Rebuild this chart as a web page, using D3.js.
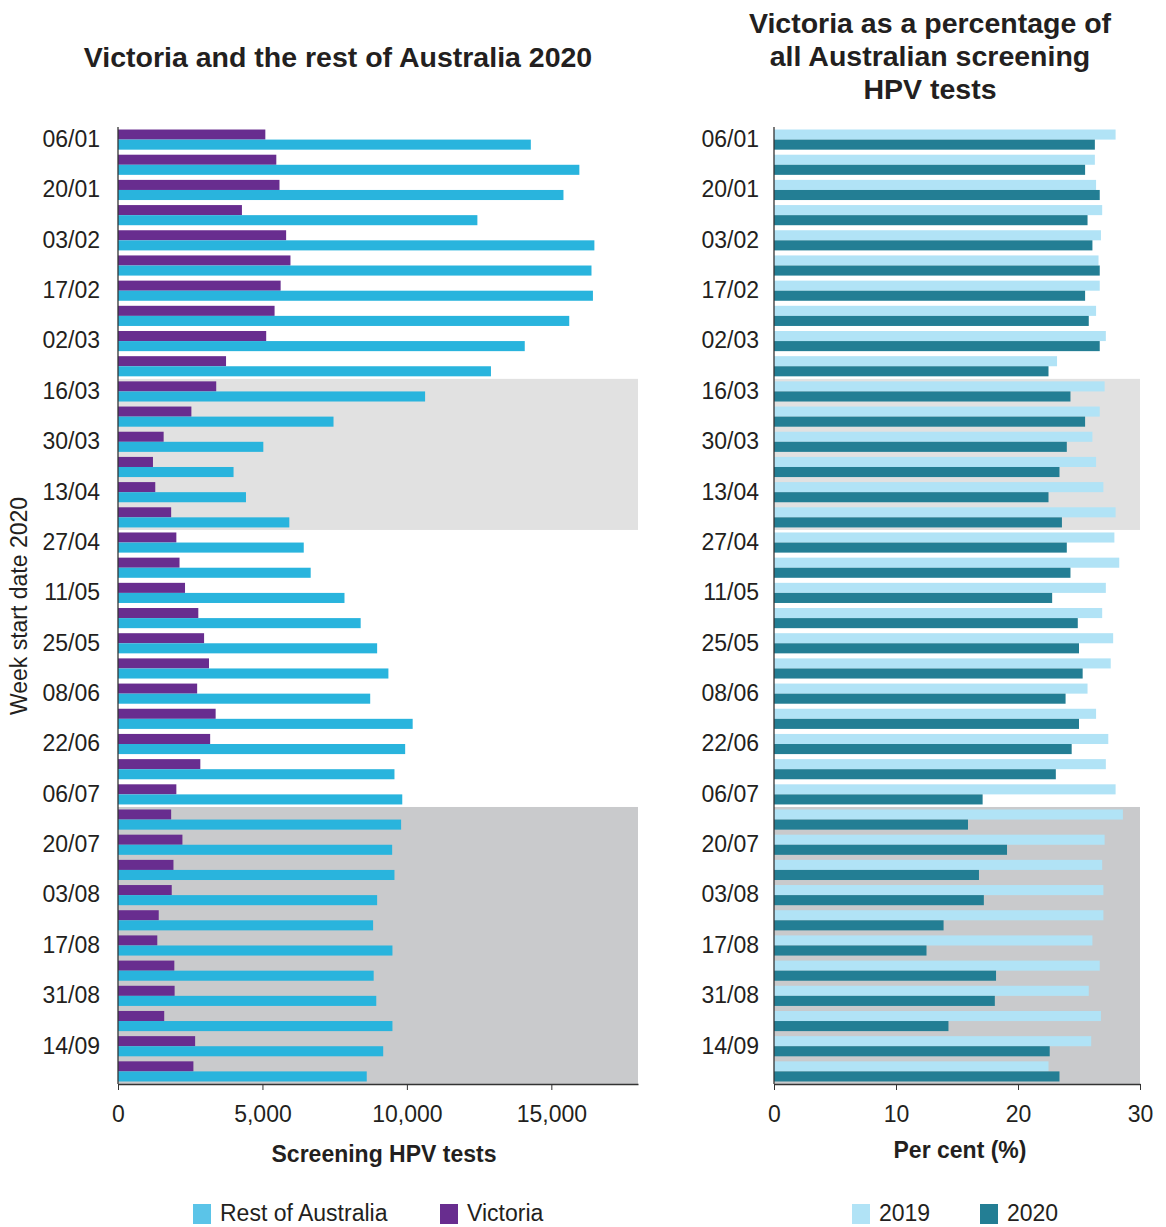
<!DOCTYPE html>
<html>
<head>
<meta charset="utf-8">
<script src="https://cdn.jsdelivr.net/npm/d3@7"></script>
<style>
  body { margin: 0; background: #fff; }
  text { font-family: "Liberation Sans", Arial, sans-serif; fill: #231f20; }
</style>
</head>
<body>
<div id="chart"></div>
<script>
let weeks = ["06/01","13/01","20/01","27/01","03/02","10/02","17/02","24/02","02/03","09/03",
  "16/03","23/03","30/03","06/04","13/04","20/04","27/04","04/05","11/05","18/05",
  "25/05","01/06","08/06","15/06","22/06","29/06","06/07","13/07","20/07","27/07",
  "03/08","10/08","17/08","24/08","31/08","07/09","14/09","21/09"];

// screening HPV tests per week
let victoria = [5100,5480,5590,4290,5820,5970,5630,5420,5130,3740,
  3400,2540,1580,1210,1290,1840,2020,2130,2320,2780,
  2980,3150,2740,3380,3190,2850,2020,1840,2230,1920,
  1860,1410,1360,1950,1960,1600,2670,2610];
let restOfAustralia = [14290,15970,15420,12440,16490,16390,16440,15620,14080,12910,
  10630,7460,5030,4000,4430,5930,6430,6670,7840,8400,
  8970,9360,8730,10200,9940,9570,9840,9800,9490,9570,
  8970,8830,9500,8850,8940,9500,9180,8610];

// Victoria as % of all Australian screening HPV tests
let pct2019 = [28.0,26.3,26.4,26.9,26.8,26.6,26.7,26.4,27.2,23.2,
  27.1,26.7,26.1,26.4,27.0,28.0,27.9,28.3,27.2,26.9,
  27.8,27.6,25.7,26.4,27.4,27.2,28.0,28.6,27.1,26.9,
  27.0,27.0,26.1,26.7,25.8,26.8,26.0,22.5];
let pct2020 = [26.3,25.5,26.7,25.7,26.1,26.7,25.5,25.8,26.7,22.5,
  24.3,25.5,24.0,23.4,22.5,23.6,24.0,24.3,22.8,24.9,
  25.0,25.3,23.9,25.0,24.4,23.1,17.1,15.9,19.1,16.8,
  17.2,13.9,12.5,18.2,18.1,14.3,22.6,23.4];

let xTicksLeft = [0, 5000, 10000, 15000];
let xTicksRight = [0, 10, 20, 30];
let lockdown1 = ["16/03", "20/04"];
let lockdown2 = ["13/07", "21/09"];

let width = 1166, height = 1227;
let plotTop = 127, plotBottom = 1084;

let svg = d3.select("#chart").append("svg")
  .attr("width", width)
  .attr("height", height);

let y = d3.scaleBand()
  .domain(weeks)
  .range([plotTop, plotBottom])
  .paddingInner(0.2)
  .paddingOuter(0.1);

let yAll = d3.scaleBand().domain(weeks).range([plotTop, plotBottom]).padding(0);

function panel(opts) {
  let x = d3.scaleLinear().domain(opts.domain).range([opts.x0, opts.x1]);
  let sub = d3.scaleBand().domain([0, 1]).range([0, y.bandwidth()]);
  let g = svg.append("g");

  // shaded periods
  g.append("rect")
    .attr("x", opts.x0).attr("width", opts.x1 - opts.x0)
    .attr("y", yAll(lockdown1[0]))
    .attr("height", yAll(lockdown1[1]) + yAll.bandwidth() - yAll(lockdown1[0]))
    .attr("fill", "#e1e1e1");
  g.append("rect")
    .attr("x", opts.x0).attr("width", opts.x1 - opts.x0)
    .attr("y", yAll(lockdown2[0]))
    .attr("height", yAll(lockdown2[1]) + yAll.bandwidth() - yAll(lockdown2[0]))
    .attr("fill", "#c9cacc");

  opts.series.forEach((s, k) => {
    g.append("g").selectAll("rect")
      .data(weeks)
      .enter().append("rect")
      .attr("x", opts.x0)
      .attr("y", d => y(d) + sub(k))
      .attr("width", (d, i) => x(s.values[i]) - opts.x0)
      .attr("height", sub.bandwidth())
      .attr("fill", s.color);
  });

  // y axis
  let ya = g.append("g")
    .attr("transform", "translate(" + opts.x0 + ",0)")
    .call(d3.axisLeft(yAll).tickSize(0).tickPadding(opts.pad)
      .tickValues(weeks.filter((d, i) => i % 2 == 0)));
  ya.select(".domain").attr("stroke", "#333").attr("stroke-width", 1.3)
    .attr("d", "M0," + plotTop + "V" + plotBottom);
  ya.selectAll("text").style("font-size", "23px").attr("fill", "#231f20")
    .style("font-family", "Liberation Sans, Arial, sans-serif");

  // x axis
  let xa = g.append("g")
    .attr("transform", "translate(0," + plotBottom + ")")
    .call(d3.axisBottom(x).tickValues(opts.ticks).tickSize(6).tickSizeOuter(0)
      .tickPadding(16).tickFormat(opts.fmt));
  xa.select(".domain").attr("stroke", "#333").attr("stroke-width", 1.3);
  xa.selectAll("line").attr("stroke", "#333");
  xa.selectAll("text").style("font-size", "23px").attr("fill", "#231f20")
    .style("font-family", "Liberation Sans, Arial, sans-serif");

  g.append("text")
    .attr("x", opts.xTitleX).attr("y", opts.xTitleY)
    .attr("text-anchor", "middle")
    .style("font-size", "23px").style("font-weight", "bold")
    .text(opts.xTitle);

  let t = g.append("text")
    .attr("text-anchor", "middle")
    .style("font-size", "28.5px").style("font-weight", "bold");
  opts.title.forEach((line, i) => {
    t.append("tspan").attr("x", opts.titleX).attr("y", opts.titleY + i * 33).text(line);
  });

  // legend
  opts.legendOrder.forEach((k, j) => {
    let s = opts.series[k];
    let lx = opts.legendX[j];
    g.append("rect").attr("x", lx).attr("y", 1204).attr("width", 18).attr("height", 20)
      .attr("fill", s.legendColor || s.color);
    g.append("text").attr("x", lx + 27).attr("y", 1221)
      .style("font-size", "23px").text(s.name);
  });
}

panel({
  x0: 118, x1: 638, domain: [0, 18000], ticks: xTicksLeft,
  fmt: d3.format(","), pad: 18,
  series: [
    {name: "Victoria", values: victoria, color: "#682d8f"},
    {name: "Rest of Australia", values: restOfAustralia, color: "#29b4dd", legendColor: "#5bc4e8"}
  ],
  legendOrder: [1, 0],
  legendX: [193, 440],
  xTitle: "Screening HPV tests", xTitleX: 384, xTitleY: 1162,
  title: ["Victoria and the rest of Australia 2020"], titleX: 338, titleY: 67
});

panel({
  x0: 774, x1: 1140, domain: [0, 30], ticks: xTicksRight,
  fmt: d3.format("d"), pad: 15,
  series: [
    {name: "2019", values: pct2019, color: "#b1e3f6"},
    {name: "2020", values: pct2020, color: "#237e94"}
  ],
  legendOrder: [0, 1],
  legendX: [852, 980],
  xTitle: "Per cent (%)", xTitleX: 960, xTitleY: 1158,
  title: ["Victoria as a percentage of", "all Australian screening", "HPV tests"],
  titleX: 930, titleY: 33
});

svg.append("text")
  .attr("transform", "translate(27,606) rotate(-90)")
  .attr("text-anchor", "middle")
  .style("font-size", "23px")
  .text("Week start date 2020");
</script>
</body>
</html>
